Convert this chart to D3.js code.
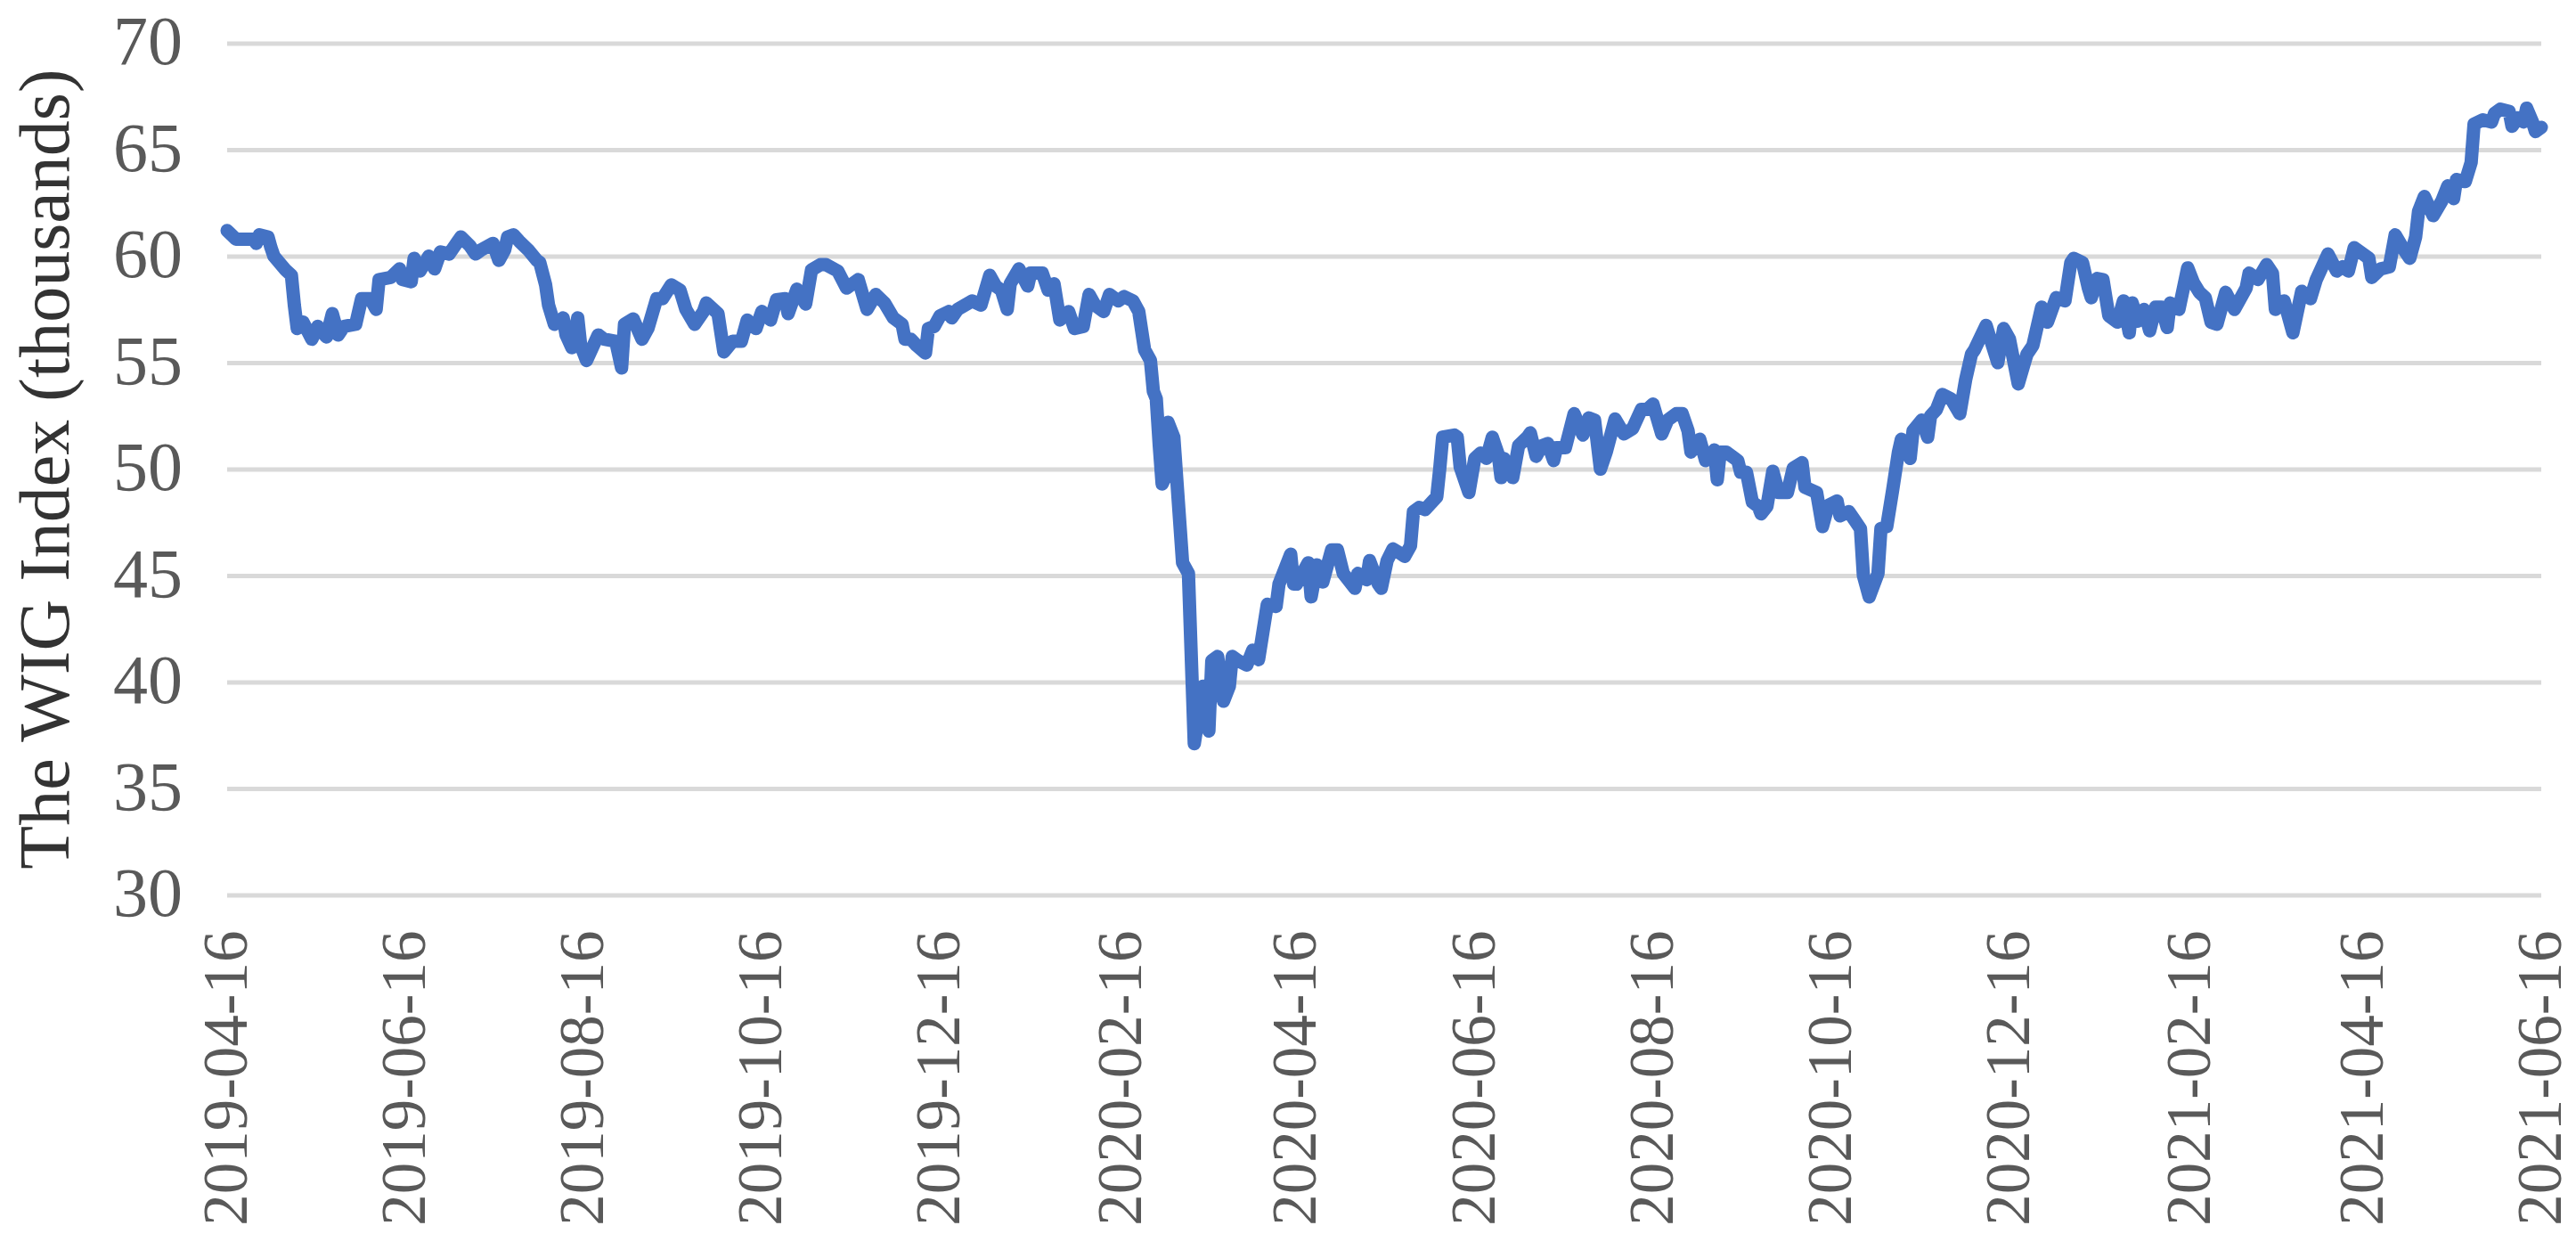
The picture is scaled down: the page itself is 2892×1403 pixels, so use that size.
<!DOCTYPE html>
<html>
<head>
<meta charset="utf-8">
<script src="https://cdn.jsdelivr.net/npm/d3@7"></script>
<style>
  body { margin: 0; background: #fff; }
  svg text { font-family: "Liberation Serif", "DejaVu Serif", serif; }
</style>
</head>
<body>
<script>
// WIG index closes (thousands)
var dates = [
  "2019-04-16","2019-04-19","2019-04-25","2019-04-26","2019-04-27","2019-04-30","2019-05-01","2019-05-02",
  "2019-05-06","2019-05-08","2019-05-09","2019-05-10","2019-05-12","2019-05-15","2019-05-17","2019-05-20",
  "2019-05-22","2019-05-24","2019-05-26","2019-05-30","2019-06-01","2019-06-04","2019-06-06","2019-06-07",
  "2019-06-11","2019-06-14","2019-06-15","2019-06-18","2019-06-19","2019-06-21","2019-06-24","2019-06-26",
  "2019-06-28","2019-07-01","2019-07-05","2019-07-08","2019-07-10","2019-07-12","2019-07-16","2019-07-18",
  "2019-07-20","2019-07-21","2019-07-23","2019-07-25","2019-07-28","2019-07-31","2019-08-01","2019-08-03",
  "2019-08-04","2019-08-06","2019-08-09","2019-08-10","2019-08-12","2019-08-14","2019-08-15","2019-08-17",
  "2019-08-21","2019-08-23","2019-08-27","2019-08-29","2019-08-30","2019-09-02","2019-09-05","2019-09-07",
  "2019-09-10","2019-09-12","2019-09-15","2019-09-18","2019-09-20","2019-09-23","2019-09-26","2019-09-27",
  "2019-10-01","2019-10-03","2019-10-06","2019-10-09","2019-10-11","2019-10-14","2019-10-16","2019-10-19",
  "2019-10-21","2019-10-24","2019-10-25","2019-10-28","2019-10-31","2019-11-02","2019-11-05","2019-11-07",
  "2019-11-11","2019-11-14","2019-11-18","2019-11-21","2019-11-24","2019-11-27","2019-11-30","2019-12-03",
  "2019-12-04","2019-12-06","2019-12-08","2019-12-11","2019-12-12","2019-12-14","2019-12-16","2019-12-19",
  "2019-12-20","2019-12-22","2019-12-27","2019-12-30","2020-01-02","2020-01-04","2020-01-06","2020-01-08",
  "2020-01-09","2020-01-12","2020-01-15","2020-01-16","2020-01-20","2020-01-22","2020-01-24","2020-01-26",
  "2020-01-29","2020-01-31","2020-02-03","2020-02-05","2020-02-07","2020-02-10","2020-02-12","2020-02-15",
  "2020-02-17","2020-02-20","2020-02-22","2020-02-24","2020-02-26","2020-02-27","2020-02-28","2020-02-29",
  "2020-03-01","2020-03-02","2020-03-03","2020-03-05","2020-03-08","2020-03-10","2020-03-12","2020-03-15",
  "2020-03-17","2020-03-18","2020-03-20","2020-03-22","2020-03-24","2020-03-25","2020-03-27","2020-03-30",
  "2020-04-01","2020-04-03","2020-04-06","2020-04-09","2020-04-10","2020-04-14","2020-04-15","2020-04-16",
  "2020-04-20","2020-04-21","2020-04-23","2020-04-25","2020-04-28","2020-04-30","2020-05-02","2020-05-06",
  "2020-05-07","2020-05-10","2020-05-11","2020-05-14","2020-05-15","2020-05-17","2020-05-19","2020-05-22",
  "2020-05-23","2020-05-25","2020-05-26","2020-05-28","2020-05-30","2020-06-03","2020-06-04","2020-06-05",
  "2020-06-09","2020-06-10","2020-06-11","2020-06-14","2020-06-16","2020-06-18","2020-06-20","2020-06-22",
  "2020-06-24","2020-06-25","2020-06-26","2020-06-29","2020-07-01","2020-07-04","2020-07-05","2020-07-07",
  "2020-07-09","2020-07-11","2020-07-13","2020-07-14","2020-07-17","2020-07-20","2020-07-23","2020-07-25",
  "2020-07-27","2020-07-29","2020-07-31","2020-08-03","2020-08-06","2020-08-09","2020-08-12","2020-08-14",
  "2020-08-16","2020-08-19","2020-08-21","2020-08-24","2020-08-26","2020-08-28","2020-08-29","2020-09-01",
  "2020-09-03","2020-09-06","2020-09-07","2020-09-08","2020-09-10","2020-09-14","2020-09-15","2020-09-17",
  "2020-09-19","2020-09-21","2020-09-22","2020-09-24","2020-09-26","2020-09-28","2020-10-01","2020-10-03",
  "2020-10-06","2020-10-07","2020-10-11","2020-10-13","2020-10-15","2020-10-18","2020-10-19","2020-10-22",
  "2020-10-24","2020-10-26","2020-10-27","2020-10-29","2020-11-01","2020-11-02","2020-11-04","2020-11-06",
  "2020-11-08","2020-11-09","2020-11-10","2020-11-12","2020-11-13","2020-11-16","2020-11-18","2020-11-19",
  "2020-11-21","2020-11-23","2020-11-26","2020-11-29","2020-12-01","2020-12-03","2020-12-04","2020-12-08",
  "2020-12-09","2020-12-12","2020-12-14","2020-12-16","2020-12-19","2020-12-22","2020-12-24","2020-12-27",
  "2020-12-29","2021-01-01","2021-01-04","2021-01-06","2021-01-07","2021-01-10","2021-01-12","2021-01-13",
  "2021-01-15","2021-01-17","2021-01-19","2021-01-22","2021-01-24","2021-01-26","2021-01-27","2021-01-29",
  "2021-01-31","2021-02-02","2021-02-04","2021-02-06","2021-02-08","2021-02-09","2021-02-12","2021-02-15",
  "2021-02-17","2021-02-19","2021-02-21","2021-02-23","2021-02-25","2021-02-28","2021-03-03","2021-03-07",
  "2021-03-08","2021-03-11","2021-03-14","2021-03-16","2021-03-17","2021-03-20","2021-03-23","2021-03-26",
  "2021-03-29","2021-03-31","2021-04-04","2021-04-07","2021-04-09","2021-04-11","2021-04-13","2021-04-18",
  "2021-04-19","2021-04-22","2021-04-25","2021-04-27","2021-04-30","2021-05-02","2021-05-04","2021-05-05",
  "2021-05-07","2021-05-10","2021-05-13","2021-05-15","2021-05-17","2021-05-18","2021-05-21","2021-05-23",
  "2021-05-24","2021-05-27","2021-05-30","2021-05-31","2021-06-02","2021-06-05","2021-06-06","2021-06-08",
  "2021-06-10","2021-06-11","2021-06-13","2021-06-14","2021-06-16"
];

var values = [
  61.2,60.8,60.8,60.6,61.0,60.9,60.4,60.0,
  59.35,59.1,57.7,56.6,56.9,56.1,56.7,56.2,
  57.3,56.3,56.7,56.8,58.0,58.0,57.5,58.9,
  59.0,59.4,58.9,58.8,59.9,59.3,60.0,59.4,
  60.2,60.1,60.9,60.5,60.1,60.3,60.6,59.8,
  60.3,60.9,61.0,60.7,60.3,59.8,59.7,58.65,
  57.7,56.8,57.1,56.3,55.7,57.1,55.8,55.1,
  56.3,56.1,56.0,54.75,56.8,57.05,56.1,56.6,
  58.0,58.0,58.65,58.4,57.5,56.8,57.4,57.8,
  57.3,55.5,56.0,56.0,57.0,56.6,57.4,57.0,
  57.95,58.0,57.3,58.45,57.75,59.35,59.6,59.6,
  59.3,58.5,58.9,57.5,58.2,57.8,57.1,56.8,
  56.1,56.1,55.8,55.45,56.6,56.7,57.2,57.4,
  57.1,57.5,57.9,57.7,59.1,58.6,58.4,57.5,
  58.7,59.4,58.6,59.2,59.2,58.4,58.7,57.0,
  57.4,56.6,56.7,58.2,57.7,57.4,58.2,57.9,
  58.1,57.9,57.4,55.6,55.1,53.65,53.3,51.15,
  49.3,49.6,52.2,51.5,45.6,45.1,37.1,39.8,
  37.7,41.0,41.2,39.1,39.8,41.2,41.0,40.8,
  41.5,41.05,43.65,43.55,44.6,46.0,44.6,44.6,
  45.6,44.0,45.5,44.7,46.2,46.2,45.1,44.4,
  45.1,44.8,45.7,44.6,44.4,45.7,46.25,46.0,
  45.9,46.4,48.0,48.2,48.1,48.7,50.0,51.5,
  51.6,51.5,50.1,48.9,50.5,50.75,50.5,51.5,
  50.7,49.6,50.5,49.6,51.1,51.5,51.7,50.6,
  51.1,51.2,50.4,51.0,51.0,52.6,51.6,52.4,
  52.3,50.0,50.8,52.35,51.65,51.9,52.8,52.8,
  53.05,51.65,52.3,52.6,52.6,51.8,50.8,51.4,
  50.4,50.9,49.5,50.8,50.8,50.4,49.85,49.85,
  48.45,48.25,47.9,48.25,49.9,48.9,48.9,50.05,
  50.3,49.15,48.9,47.3,48.3,48.5,47.8,48.0,
  47.6,47.2,45.0,44.0,45.1,47.2,47.3,49.0,
  50.8,51.4,51.2,50.5,51.8,52.3,51.5,52.5,
  52.8,53.5,53.3,52.6,54.2,55.4,55.6,56.75,
  56.3,55.0,56.6,56.1,54.0,55.4,55.8,57.6,
  56.9,58.05,57.9,59.7,59.9,59.7,58.5,58.05,
  58.95,58.9,57.2,56.9,57.9,56.4,57.8,56.95,
  57.5,56.5,57.6,57.6,56.65,57.8,57.5,59.45,
  58.75,58.3,58.05,56.9,56.8,58.3,57.5,58.5,
  59.2,58.9,59.6,59.2,57.5,57.9,56.4,58.35,
  58.0,58.9,60.1,59.3,59.5,59.3,60.4,59.9,
  59.0,59.4,59.5,61.0,60.3,59.9,60.9,62.1,
  62.8,61.9,62.6,63.3,62.7,63.6,63.5,64.4,
  66.2,66.4,66.3,66.7,66.9,66.8,66.1,66.5,
  66.3,66.95,66.3,65.85,66.05
];

// x tick labels every two months
var xTickLabels = [
  "2019-04-16","2019-06-16","2019-08-16","2019-10-16","2019-12-16","2020-02-16","2020-04-16",
  "2020-06-16","2020-08-16","2020-10-16","2020-12-16","2021-02-16","2021-04-16","2021-06-16"
];
var yTicks = [30, 35, 40, 45, 50, 55, 60, 65, 70];
var yTitle = "The WIG Index (thousands)";

var W = 2892, H = 1403;
var margin = {top: 48.5, right: 39, bottom: 398.5, left: 255};

var parse = d3.timeParse("%Y-%m-%d");
var data = dates.map(function(d, i) { return {date: parse(d), value: values[i]}; });

var svg = d3.select("body").append("svg")
    .attr("width", W)
    .attr("height", H);

var x = d3.scaleTime()
    .domain([parse(xTickLabels[0]), parse(xTickLabels[xTickLabels.length - 1])])
    .range([margin.left, W - margin.right]);

var y = d3.scaleLinear()
    .domain([30, 70])
    .range([H - margin.bottom, margin.top]);

// horizontal gridlines + y labels
var yAxis = d3.axisLeft(y)
    .tickValues(yTicks)
    .tickSize(-(W - margin.left - margin.right))
    .tickPadding(50)
    .tickFormat(d3.format("d"));

var gy = svg.append("g")
    .attr("transform", "translate(" + margin.left + ",0)")
    .call(yAxis);
gy.select(".domain").remove();
gy.selectAll(".tick line")
    .attr("stroke", "#d9d9d9")
    .attr("stroke-width", 5);
gy.selectAll(".tick text")
    .attr("fill", "#595959")
    .style("font-size", "78px")
    .attr("dy", "0.3em");

// x axis, rotated date labels
var xAxis = d3.axisBottom(x)
    .tickValues(xTickLabels.map(parse))
    .tickSize(0)
    .tickFormat(d3.timeFormat("%Y-%m-%d"));

var gx = svg.append("g")
    .attr("transform", "translate(0," + (H - margin.bottom) + ")")
    .call(xAxis);
gx.select(".domain").remove();
gx.selectAll(".tick text")
    .attr("fill", "#595959")
    .style("font-size", "71px")
    .style("text-anchor", "end")
    .attr("transform", "rotate(-90)")
    .attr("x", -40)
    .attr("y", 0)
    .attr("dy", "0.3em");

// the series
var line = d3.line()
    .x(function(d) { return x(d.date); })
    .y(function(d) { return y(d.value); });

svg.append("path")
    .datum(data)
    .attr("fill", "none")
    .attr("stroke", "#4472c4")
    .attr("stroke-width", 15)
    .attr("stroke-linejoin", "round")
    .attr("stroke-linecap", "round")
    .attr("d", line);

// y axis title
svg.append("text")
    .attr("transform", "translate(77," + ((margin.top + H - margin.bottom) / 2) + ") rotate(-90)")
    .attr("text-anchor", "middle")
    .attr("fill", "#333")
    .style("font-size", "80px")
    .text(yTitle);
</script>
</body>
</html>
